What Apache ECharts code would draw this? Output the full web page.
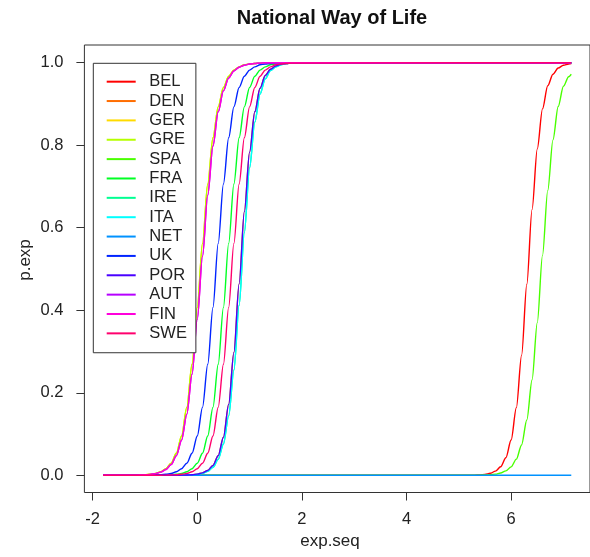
<!DOCTYPE html>
<html>
<head>
<meta charset="utf-8">
<script src="https://cdn.jsdelivr.net/npm/echarts@6/dist/echarts.min.js"></script>
<style>html,body{margin:0;padding:0;background:#fff}#c{width:590px;height:557px}</style>
</head>
<body>
<div id="c"></div>
<script>
// ---- data ----
const countries = ['BEL','DEN','GER','GRE','SPA','FRA','IRE','ITA','NET','UK','POR','AUT','FIN','SWE'];
const colors = ['#FF0000','#FF6D00','#FFDB00','#B6FF00','#49FF00','#00FF24','#00FF92','#00FFFF','#0092FF','#0024FF','#4900FF','#B600FF','#FF00DB','#FF006D'];
const xTicks = [-2, 0, 2, 4, 6];
const yTicks = [0, 0.2, 0.4, 0.6, 0.8, 1.0];
const expSeq = [-1.8,
  -1.2,-1.1,-1.0,-0.9,-0.8,-0.7,-0.6,-0.5,-0.4,-0.3,-0.2,-0.1,0.0,0.1,0.2,0.3,0.4,0.5,0.6,0.7,0.8,0.9,1.0,1.1,1.2,1.3,1.4,1.5,1.6,1.7,1.8,
  5.2,5.3,5.4,5.5,5.6,5.7,5.8,5.9,6.0,6.1,6.2,6.3,6.4,6.5,6.6,6.7,6.8,6.9,7.0,7.1,7.15];

const pBEL = [0,
  0,0,0,0,0,0,0,0,0,0,0,0,0,0,0,0,0,0,0,0,0,0,0,0,0,0,0,0,0,0,0,
  0.0002,0.0005,0.0011,0.0023,0.0048,0.0100,0.0208,0.0427,0.0855,0.164,0.291,0.463,0.644,0.791,0.888,0.944,0.972,0.987,0.994,0.997,0.998];
const pDEN = [0,
  0,0,0,0,0,0,0.0001,0.0001,0.0002,0.0003,0.0007,0.0014,0.0029,0.0058,0.0118,0.0238,0.0474,0.0923,0.172,0.298,0.464,0.639,0.783,0.881,0.938,0.969,0.984,0.992,0.996,0.998,0.999,
  1,1,1,1,1,1,1,1,1,1,1,1,1,1,1,1,1,1,1,1,1];
const pGER = [0,
  0.0004,0.0007,0.0013,0.0025,0.0046,0.0086,0.0159,0.0293,0.0534,0.0953,0.165,0.269,0.407,0.562,0.706,0.818,0.893,0.940,0.967,0.982,0.990,0.995,0.997,0.998,0.999,1,1,1,1,1,1,
  1,1,1,1,1,1,1,1,1,1,1,1,1,1,1,1,1,1,1,1,1];
const pGRE = [0,
  0.0004,0.0007,0.0013,0.0025,0.0046,0.0086,0.0159,0.0293,0.0534,0.0953,0.165,0.269,0.407,0.562,0.706,0.818,0.893,0.940,0.967,0.982,0.990,0.995,0.997,0.998,0.999,1,1,1,1,1,1,
  1,1,1,1,1,1,1,1,1,1,1,1,1,1,1,1,1,1,1,1,1];
const pSPA = [0,
  0,0,0,0,0,0,0,0,0,0,0,0,0,0,0,0,0,0,0,0,0,0,0,0,0,0,0,0,0,0,0,
  0.0001,0.0002,0.0004,0.0007,0.0015,0.0028,0.0055,0.0107,0.0205,0.0392,0.0736,0.134,0.231,0.370,0.533,0.690,0.813,0.894,0.943,0.966,0.972];
const pFRA = [0,
  0,0,0.0001,0.0001,0.0002,0.0004,0.0007,0.0013,0.0025,0.0046,0.0086,0.0159,0.0293,0.0534,0.0953,0.165,0.269,0.407,0.562,0.706,0.818,0.893,0.940,0.967,0.982,0.990,0.995,0.997,0.998,0.999,1,
  1,1,1,1,1,1,1,1,1,1,1,1,1,1,1,1,1,1,1,1,1];
const pIRE = [0,
  0,0,0,0,0,0,0,0.0001,0.0001,0.0003,0.0006,0.0011,0.0023,0.0047,0.0095,0.0193,0.0386,0.0759,0.144,0.255,0.412,0.588,0.745,0.856,0.924,0.961,0.981,0.990,0.995,0.998,0.999,
  1,1,1,1,1,1,1,1,1,1,1,1,1,1,1,1,1,1,1,1,1];
const pITA = [0,
  0,0,0,0,0,0,0,0.0001,0.0001,0.0003,0.0006,0.0011,0.0023,0.0047,0.0095,0.0193,0.0386,0.0759,0.144,0.255,0.412,0.588,0.745,0.856,0.924,0.961,0.981,0.990,0.995,0.998,0.999,
  1,1,1,1,1,1,1,1,1,1,1,1,1,1,1,1,1,1,1,1,1];
const pNET = [0,
  0,0,0,0,0,0,0,0,0,0,0,0,0,0,0,0,0,0,0,0,0,0,0,0,0,0,0,0,0,0,0,
  0,0,0,0,0,0,0,0,0,0,0,0,0,0,0,0,0,0,0,0,0];
const pUK = [0,
  0.0001,0.0001,0.0002,0.0004,0.0007,0.0013,0.0025,0.0046,0.0086,0.0159,0.0293,0.0534,0.0953,0.165,0.269,0.407,0.562,0.706,0.818,0.893,0.940,0.967,0.982,0.990,0.995,0.997,0.998,0.999,1,1,1,
  1,1,1,1,1,1,1,1,1,1,1,1,1,1,1,1,1,1,1,1,1];
const pPOR = [0,
  0,0,0,0,0,0,0.0001,0.0001,0.0002,0.0003,0.0007,0.0014,0.0029,0.0058,0.0118,0.0238,0.0474,0.0923,0.172,0.298,0.464,0.639,0.783,0.881,0.938,0.969,0.984,0.992,0.996,0.998,0.999,
  1,1,1,1,1,1,1,1,1,1,1,1,1,1,1,1,1,1,1,1,1];
const pAUT = [0,
  0.0003,0.0006,0.0012,0.0022,0.0041,0.0076,0.0141,0.0260,0.0474,0.0851,0.148,0.245,0.378,0.531,0.679,0.798,0.881,0.932,0.963,0.980,0.989,0.994,0.997,0.998,0.999,1,1,1,1,1,1,
  1,1,1,1,1,1,1,1,1,1,1,1,1,1,1,1,1,1,1,1,1];
const pFIN = [0,
  0.0003,0.0006,0.0012,0.0022,0.0041,0.0076,0.0141,0.0260,0.0474,0.0851,0.148,0.245,0.378,0.531,0.679,0.798,0.881,0.932,0.963,0.980,0.989,0.994,0.997,0.998,0.999,1,1,1,1,1,1,
  1,1,1,1,1,1,1,1,1,1,1,1,1,1,1,1,1,1,1,1,1];
const pSWE = [0,
  0,0,0,0.0001,0.0001,0.0002,0.0004,0.0007,0.0013,0.0025,0.0046,0.0086,0.0159,0.0293,0.0534,0.0953,0.165,0.269,0.407,0.562,0.706,0.818,0.893,0.940,0.967,0.982,0.990,0.995,0.997,0.998,0.999,
  1,1,1,1,1,1,1,1,1,1,1,1,1,1,1,1,1,1,1,1,1];

const pByCountry = [pBEL,pDEN,pGER,pGRE,pSPA,pFRA,pIRE,pITA,pNET,pUK,pPOR,pAUT,pFIN,pSWE];

// ---- chart ----
const FONT = "'Liberation Sans', Arial, sans-serif";
const chart = echarts.init(document.getElementById('c'), null, {renderer: 'canvas'});
const series = countries.map((name, k) => ({
  name: name,
  type: 'line',
  data: expSeq.map((x, i) => [x, pByCountry[k][i]]),
  showSymbol: false,
  symbol: 'none',
  smooth: 0.3,
  smoothMonotone: 'x',
  lineStyle: {color: colors[k], width: 1.4},
  itemStyle: {color: colors[k]},
  emphasis: {disabled: true},
  z: 2
}));

chart.setOption({
  animation: false,
  backgroundColor: '#fff',
  textStyle: {fontFamily: FONT},
  grid: {left: 84.4, top: 45, width: 509, height: 447.5, show: true, borderColor: '#333', borderWidth: 1, containLabel: false},
  xAxis: {
    type: 'value', min: -2.158, max: 7.508,
    axisLine: {show: false, onZero: false},
    splitLine: {show: false},
    axisTick: {show: true, inside: false, length: 8, customValues: xTicks, lineStyle: {color: '#333'}},
    axisLabel: {customValues: xTicks, margin: 18, fontSize: 16.5, color: '#222', fontFamily: FONT}
  },
  yAxis: {
    type: 'value', min: -0.0417, max: 1.0429,
    axisLine: {show: false, onZero: false},
    splitLine: {show: false},
    axisTick: {show: true, inside: false, length: 8, customValues: yTicks, lineStyle: {color: '#333'}},
    axisLabel: {customValues: yTicks, margin: 21, fontSize: 16.5, color: '#222', fontFamily: FONT,
      formatter: v => v.toFixed(1)}
  },
  legend: {
    data: countries,
    orient: 'vertical',
    left: 93.3, top: 63.3,
    padding: [8.7, 9, 9.7, 13.4],
    itemGap: 0,
    itemWidth: 29, itemHeight: 2,
    icon: 'rect',
    selectedMode: false,
    backgroundColor: '#fff',
    borderColor: '#333', borderWidth: 1, borderRadius: 0,
    textStyle: {fontSize: 16.5, color: '#222', fontFamily: FONT, lineHeight: 19.36, padding: [0, 0, 0, 8.6]}
  },
  graphic: [
    {type: 'text', style: {text: 'National Way of Life', x: 332, y: 18, align: 'center', verticalAlign: 'middle', font: 'bold 20px ' + FONT, fill: '#111'}},
    {type: 'text', style: {text: 'exp.seq', x: 330, y: 541, align: 'center', verticalAlign: 'middle', font: '17px ' + FONT, fill: '#222'}},
    {type: 'text', x: 25, y: 260, rotation: Math.PI / 2, style: {text: 'p.exp', x: 0, y: 0, align: 'center', verticalAlign: 'middle', font: '17px ' + FONT, fill: '#222'}}
  ],
  series: series
});
</script>
</body>
</html>
